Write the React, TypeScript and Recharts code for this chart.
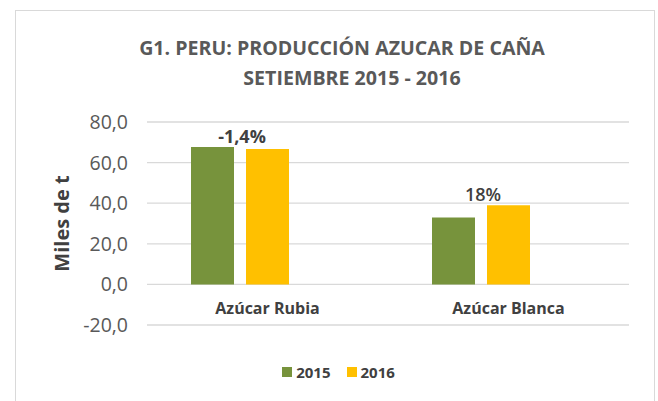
import React from 'react';
import { BarChart, Bar, XAxis, YAxis, CartesianGrid, Legend, LabelList } from 'recharts';

const categories = ['Azúcar Rubia', 'Azúcar Blanca'];
const values2015 = [67.7, 33.0];
const values2016 = [66.7, 39.0];
const variation = ['-1,4%', '18%'];
const yTicks = [-20, 0, 20, 40, 60, 80];

const FONT = '"Open Sans", "Noto Sans", sans-serif';

const data = categories.map((name, i) => ({
  name,
  y2015: values2015[i],
  y2016: values2016[i],
  // slot vacío que Excel reserva para la serie de variación
  spacer: null,
}));

const fmt = (v: number) => v.toFixed(1).replace('.', ',');

const CategoryTick = (props: any) => {
  const { x, y, payload } = props;
  return (
    <text x={x} y={y - 19} textAnchor="middle" fontFamily={FONT} fontSize={16} fontWeight={700} fill="#404040">
      {payload.value}
    </text>
  );
};

// etiqueta de variación centrada entre las dos barras, encima de la más alta
const VariationLabel = (props: any) => {
  const { x, y, height, index } = props;
  const v15 = values2015[index];
  const v16 = values2016[index];
  const perUnit = height / v16;
  const top = y + height - Math.max(v15, v16) * perUnit;
  return (
    <text x={x - 4} y={top - 4} textAnchor="middle" fontFamily={FONT} fontSize={18}
      fontWeight={index === 0 ? 700 : 600} fill="#404040">
      {variation[index]}
    </text>
  );
};

const LegendContent = () => (
  <div style={{ display: 'flex', justifyContent: 'center', alignItems: 'center', fontFamily: FONT, fontSize: 15, fontWeight: 700, color: '#404040', paddingLeft: 48 }}>
    <span style={{ width: 10, height: 10, background: '#77933C', display: 'inline-block', marginRight: 4 }} />
    <span style={{ marginRight: 16 }}>2015</span>
    <span style={{ width: 10, height: 10, background: '#FFC000', display: 'inline-block', marginRight: 4 }} />
    <span>2016</span>
  </div>
);

export default function App() {
  const titleStyle: React.CSSProperties = { position: 'absolute', left: 0, textAlign: 'center', fontFamily: FONT, fontSize: 19.6, fontWeight: 700, color: '#595959', lineHeight: '30px' };
  return (
    <div style={{ position: 'absolute', left: 0, top: 0, width: 658, height: 401, background: '#fff', overflow: 'hidden' }}>
      <div style={{ position: 'absolute', left: 15, top: 10, width: 638, height: 420, border: '1.5px solid #d9d9d9' }} />
      <div style={{ ...titleStyle, top: 33, width: 684 }}>G1. PERU: PRODUCCIÓN AZUCAR DE CAÑA</div>
      <div style={{ ...titleStyle, top: 63, width: 704 }}>SETIEMBRE 2015 - 2016</div>
      <BarChart
        width={658}
        height={401}
        data={data}
        margin={{ top: 122, right: 29, bottom: 15, left: 0 }}
        barSize={43}
        barGap={12}
        style={{ position: 'absolute', left: 0, top: 0 }}
      >
        <CartesianGrid vertical={false} stroke="#d9d9d9" strokeWidth={1.3} />
        <XAxis dataKey="name" axisLine={false} tickLine={false} height={37} tick={<CategoryTick />} interval={0} />
        <YAxis
          width={147}
          domain={[-20, 80]}
          ticks={yTicks}
          tickFormatter={fmt}
          axisLine={false}
          tickLine={false}
          tickMargin={13}
          tick={{ fill: '#595959', fontSize: 19.5, fontFamily: FONT }}
          label={{ value: 'Miles de t', angle: -90, position: 'insideLeft', offset: 62, style: { textAnchor: 'middle', fill: '#404040', fontSize: 20, fontWeight: 700, fontFamily: FONT } }}
        />
        <Bar dataKey="y2015" name="2015" fill="#77933C" isAnimationActive={false} />
        <Bar dataKey="y2016" name="2016" fill="#FFC000" isAnimationActive={false}>
          <LabelList dataKey="y2016" content={<VariationLabel />} />
        </Bar>
        <Bar dataKey="spacer" legendType="none" fill="none" isAnimationActive={false} />
        <Legend verticalAlign="bottom" height={24} content={<LegendContent />} />
      </BarChart>
    </div>
  );
}
